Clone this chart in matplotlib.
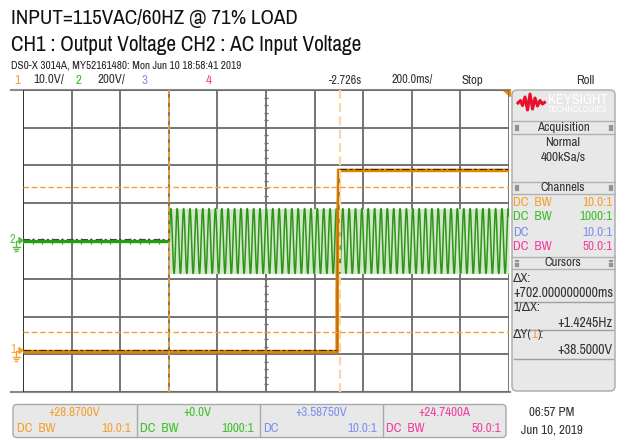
import numpy as np
import matplotlib
matplotlib.use("Agg")
import matplotlib.pyplot as plt
from matplotlib import font_manager
from matplotlib.patches import FancyBboxPatch, Polygon, Rectangle

names = {f.name for f in font_manager.fontManager.ttflist}
NARROW = 'Liberation Sans'
for cand in ['Liberation Sans Narrow', 'Arial Narrow', 'Archivo Narrow', 'Roboto Condensed',
             'PT Sans Narrow', 'Fira Sans Condensed', 'IBM Plex Sans Condensed',
             'Encode Sans Condensed', 'Asap Condensed']:
    if cand in names:
        NARROW = cand
        break
FAM = [NARROW, 'DejaVu Sans']
plt.rcParams['font.family'] = FAM

# ---------------- data ----------------
title_line1 = "INPUT=115VAC/60HZ @ 71% LOAD"
title_line2 = "CH1 : Output Voltage CH2 : AC Input Voltage"
info_line = "DS0-X 3014A, MY52161480: Mon Jun 10 18:58:41 2019"

t_center = -2.726          # s
t_per_div = 0.200          # s/div
ch1_v_per_div = 10.0
ch2_v_per_div = 200.0
ch1_ground_div = -2.93     # ch1 ground position (divisions from center)

# CH1 output voltage (step)
ch1_time = [-3.726, -2.433, -2.433, -2.427, -1.726]
ch1_volts = [0.0, 0.0, 16.0, 48.0, 48.0]

# CH2 AC input (off, then on)
ch2_on_time = -3.124
ch2_peak_v = 172.0
ch2_display_period = 0.0262   # apparent (aliased) period on screen

cursor_x = [-3.124, -2.422]
cursor_y = [5.2, 43.7]        # volts on ch1

chan_colors = ['#f5a030', '#3fbf2a', '#7f90ee', '#f040a0']
chan_coupling = ['DC  BW', 'DC  BW', 'DC', 'DC  BW']
chan_probe = ['10.0:1', '1000:1', '10.0:1', '50.0:1']
chan_readout = ['+28.8700V', '+0.0V', '+3.58750V', '+24.7400A']

# ---------------- figure ----------------
W, H = 618, 441
fig = plt.figure(figsize=(W / 100, H / 100), dpi=100)
bg = fig.add_axes([0, 0, 1, 1], zorder=0)
bg.set_xlim(0, W)
bg.set_ylim(H, 0)
bg.axis('off')
renderer = fig.canvas.get_renderer()

def txt(x, y, s, size=8, color='#222222', ha='left', va='center', **kw):
    return bg.text(x, y, s, fontsize=size, color=color, ha=ha, va=va, family=FAM, **kw)

def fit_txt(x, y, s, target_w, size, color, ha='left'):
    t = txt(x, y, s, size=size, color=color, ha=ha)
    w = t.get_window_extent(renderer).width
    t.set_fontsize(size * target_w / w)
    return t

def chain(x, y, parts, size=8):
    for s, c in parts:
        t = txt(x, y, s, size=size, color=c)
        x += t.get_window_extent(renderer).width

# header texts
fit_txt(11, 18, title_line1, 287, 15.5, '#111111')
fit_txt(11, 45, title_line2, 350, 15.5, '#111111')
fit_txt(11, 66, info_line, 230, 7.5, '#222222')
TOP = 9.3
txt(14, 80, "1", size=TOP, color=chan_colors[0])
txt(33, 80, "10.0V/", size=TOP, color='#333333')
txt(76, 80, "2", size=TOP, color=chan_colors[1])
txt(97, 80, "200V/", size=TOP, color='#333333')
txt(142, 80, "3", size=TOP, color=chan_colors[2])
txt(206, 80, "4", size=TOP, color=chan_colors[3])
txt(329, 80, "-2.726s", size=8.8, color='#333333')
txt(392, 80, "200.0ms/", size=8.8, color='#333333')
txt(462, 80, "Stop", size=TOP, color='#333333')
txt(576, 80, "Roll", size=TOP, color='#333333')

# border lines of grid area
bg.plot([11, 510], [89.5, 89.5], color='#8a8a8a', lw=1.5, zorder=1)
bg.plot([11, 510], [392, 392], color='#8a8a8a', lw=1.5, zorder=1)

# ---------------- scope grid ----------------
L, R, T, B = 23, 509, 90, 392
ax = fig.add_axes([L / W, 1 - B / H, (R - L) / W, (B - T) / H], zorder=2)
ax.set_facecolor('none')
t0 = t_center - 5 * t_per_div
t1 = t_center + 5 * t_per_div
ax.set_xlim(t0, t1)
ax.set_ylim(-4, 4)
ax.set_xticks([])
ax.set_yticks([])
for s in ax.spines.values():
    s.set_visible(False)

for i in range(11):
    ax.axvline(t0 + i * t_per_div, color='#6a6a6a', lw=1.3, zorder=1)
for j in range(-4, 5):
    ax.axhline(j, color='#6a6a6a', lw=1.3, zorder=1)
ax.axvline(t0, color='#333333', lw=1.4, zorder=1)

# minor ticks on center lines
mx = np.arange(t0, t1 + 1e-9, t_per_div / 5)
ax.vlines(mx, -0.07, 0.07, color='#6e6e6e', lw=0.9, zorder=1)
my = np.arange(-4, 4.01, 0.2)
ax.hlines(my, t_center - 0.008, t_center + 0.008, color='#6e6e6e', lw=0.9, zorder=1)

# CH2 trace
ax.plot([t0, ch2_on_time], [0, 0], color='#22a012', lw=2.4, zorder=3,
        solid_capstyle='butt')
ax.plot([t0, ch2_on_time], [0.06, 0.06], color='#444444', lw=0.8, zorder=4,
        dashes=(6, 2, 2, 3))
t_ac = np.linspace(ch2_on_time, t1, 4000)
v_ac = ch2_peak_v * np.sin(2 * np.pi * (t_ac - ch2_on_time) / ch2_display_period)
ax.fill_between(t_ac, -ch2_peak_v / ch2_v_per_div, ch2_peak_v / ch2_v_per_div,
                color='#d2e8cb', lw=0, zorder=2)
ax.plot(t_ac, v_ac / ch2_v_per_div, color='#2f9418', lw=1.1, zorder=3)

# CH1 trace
ch1_div = np.array(ch1_volts) / ch1_v_per_div + ch1_ground_div
ax.plot(ch1_time, ch1_div, color='#e08800', lw=2.6, zorder=5,
        solid_capstyle='butt', solid_joinstyle='miter')
ax.plot(ch1_time[:2], ch1_div[:2] + 0.045, color='#3a2a10', lw=0.8, zorder=6,
        dashes=(7, 2, 3, 2))
ax.plot(ch1_time[3:], ch1_div[3:] + 0.045, color='#3a2a10', lw=0.8, zorder=6,
        dashes=(7, 2, 3, 2))
ax.plot(ch1_time[1:4], ch1_div[1:4], color='#b06a10', lw=0.9, zorder=6)

# cursors
ax.axvline(cursor_x[0], color='#f5a030', lw=1.3, dashes=(3, 2), zorder=7)
ax.axvline(cursor_x[1], color='#ffd3a8', lw=1.6, dashes=(4, 2), zorder=7)
for cy in cursor_y:
    ax.axhline(cy / ch1_v_per_div + ch1_ground_div, color='#f5a030', lw=1.0,
               dashes=(4, 2), zorder=7)

# orange corner triangle
bg.add_patch(Polygon([(503, 89.5), (509.5, 89.5), (509.5, 96)], closed=True,
                     color='#f08a00', zorder=3))

# ground markers
def gnd_marker(y, label, color):
    txt(10, y - 1, label, size=9, color=color)
    bg.plot([16, 16, 19], [y + 6, y, y], color=color, lw=1.0, zorder=3)
    bg.add_patch(Polygon([(19, y - 3), (23, y), (19, y + 3)], closed=True,
                         color=color, zorder=3))
    bg.plot([12.5, 19.5], [y + 6, y + 6], color=color, lw=1.0, zorder=3)
    bg.plot([14, 18], [y + 8, y + 8], color=color, lw=1.0, zorder=3)
    bg.plot([15.2, 16.8], [y + 10, y + 10], color=color, lw=1.0, zorder=3)

gnd_marker(240.5, "2", '#55c040')
gnd_marker(350.5, "1", '#f5a030')

# ---------------- right panel ----------------
bg.add_patch(FancyBboxPatch((512, 90), 103, 301, boxstyle='round,pad=0,rounding_size=5',
                            facecolor='#e8e8e8', edgecolor='#a8a8a8', lw=1.0, zorder=1))
# logo
logo_x = [518, 520.5, 522.5, 525, 527.5, 530, 532.5, 535, 537.5, 540, 542.5, 544.5]
logo_y = [103, 100.5, 105.5, 97, 110, 94, 109, 98, 106, 100.5, 104, 102.5]
bg.plot(logo_x, logo_y, color='#e8102a', lw=2.2, zorder=3, solid_joinstyle='round')
fit_txt(548, 99.5, "KEYSIGHT", 60, 9, 'white').set_fontweight('bold')
fit_txt(548, 109.5, "TECHNOLOGIES", 60, 5, 'white')

def header(y_top, y_bot, label):
    bg.plot([512, 615], [y_top, y_top], color='#b0b0b0', lw=1.0, zorder=2)
    bg.plot([512, 615], [y_bot, y_bot], color='#b0b0b0', lw=1.0, zorder=2)
    yc = (y_top + y_bot) / 2
    txt(563, yc, label, size=9.3, color='#333333', ha='center')
    for gx in (515, 609):
        for dx in (0, 2.2):
            for dy in (-2.2, 0, 2.2):
                bg.add_patch(Rectangle((gx + dx, yc + dy - 0.5), 1, 1, color='#909090', zorder=3))

header(121, 133.5, "Acquisition")
txt(563, 142, "Normal", size=9.5, color='#333333', ha='center')
txt(563, 157, "400kSa/s", size=9.5, color='#333333', ha='center')
header(182, 193.5, "Channels")
for k in range(4):
    yy = 202 + 15 * k
    txt(513, yy, chan_coupling[k], size=9.5, color=chan_colors[k])
    txt(613, yy, chan_probe[k], size=9.5, color=chan_colors[k], ha='right')
header(257, 269, "Cursors")
txt(513, 278, "ΔX:", size=9, color='#333333')
fit_txt(613, 293, "+702.000000000ms", 100, 9.5, '#333333', ha='right')
bg.plot([514, 613], [302, 302], color='#a0a0a0', lw=1.0, zorder=2)
txt(513, 308, "1/ΔX:", size=9, color='#333333')
txt(613, 323, "+1.4245Hz", size=10, color='#333333', ha='right')
bg.plot([514, 613], [330, 330], color='#a0a0a0', lw=1.0, zorder=2)
chain(513, 335, [("ΔY(", '#333333'), ("1", chan_colors[0]), ("):", '#333333')], size=9)
txt(613, 350, "+38.5000V", size=10, color='#333333', ha='right')
bg.plot([514, 613], [359, 359], color='#a0a0a0', lw=1.0, zorder=2)

# ---------------- bottom bar ----------------
bg.add_patch(FancyBboxPatch((13, 404.5), 493, 33, boxstyle='round,pad=0,rounding_size=4',
                            facecolor='#e8e8e8', edgecolor='#a8a8a8', lw=1.0, zorder=1))
cell_edges = [13, 136.5, 259.5, 382.5, 506]
BOT = 9.4
for k in range(4):
    x0, x1 = cell_edges[k], cell_edges[k + 1]
    if k > 0:
        bg.plot([x0, x0], [405, 437], color='#a8a8a8', lw=1.0, zorder=2)
    txt((x0 + x1) / 2, 413, chan_readout[k], size=BOT, color=chan_colors[k], ha='center')
    txt(x0 + 4, 429, chan_coupling[k], size=BOT, color=chan_colors[k])
    txt(x1 - 5, 429, chan_probe[k], size=BOT, color=chan_colors[k], ha='right')

txt(552, 412, "06:57 PM", size=9.4, color='#333333', ha='center')
txt(552, 430, "Jun 10, 2019", size=9.4, color='#333333', ha='center')

fig.savefig("out.png", dpi=100, facecolor='white')
